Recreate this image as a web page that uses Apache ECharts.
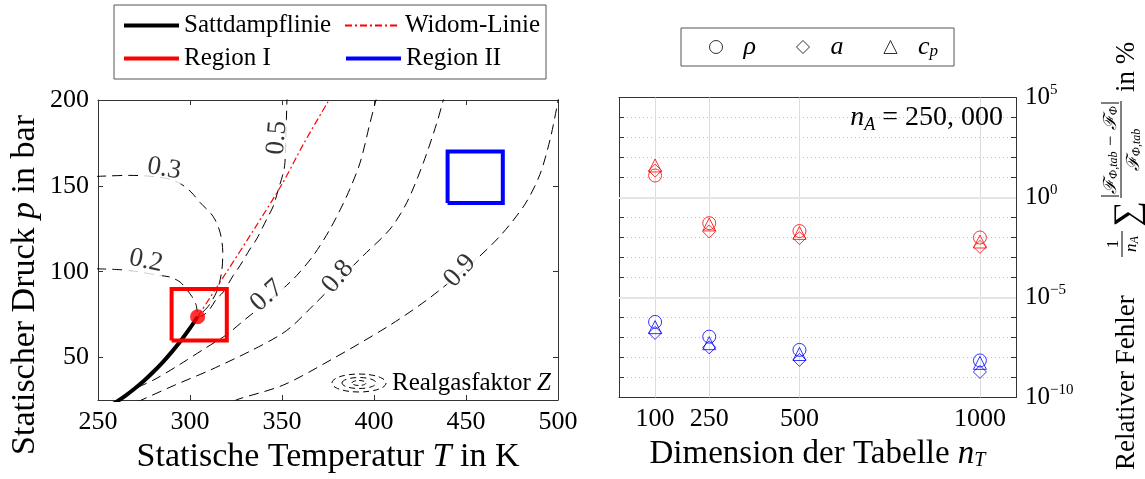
<!DOCTYPE html>
<html>
<head>
<meta charset="utf-8">
<script src="https://cdn.jsdelivr.net/npm/echarts@6/dist/echarts.min.js"></script>
<style>
  html, body { margin: 0; padding: 0; background: #ffffff; }
  #chart { width: 1145px; height: 479px; }
</style>
</head>
<body>
<div id="chart"></div>
<script>
// ---------- Left panel: CO2 state diagram (T in K, p in bar) ----------
const satLineT = [258, 260, 265, 270, 275, 280, 285, 290, 295, 300, 304.13];
const satLineP = [22.9, 24.2, 27.9, 32.0, 36.5, 41.6, 47.1, 53.2, 59.8, 67.1, 73.77];
const criticalPoint = [304.13, 73.77];
const widomT = [304.13, 320, 335, 350, 362, 375];
const widomP = [73.77, 100, 125, 151, 175, 199];
const regionIBounds = [290, 320, 60, 90];     // Tmin, Tmax, pmin, pmax
const regionIIBounds = [440, 470, 140, 170];

// Lines of constant compressibility factor Z, points [T, p]
const zLevels = ['0.2', '0.3', '0.5', '0.7', '0.8', '0.9'];
const zLine02 = [[249, 101.7], [260, 101.3], [268, 100.6], [276, 99.2], [283, 97.9], [289.1, 96.9], [294.6, 94.0], [297.8, 90.1], [301.1, 85.5], [303.3, 80.8], [303.9, 76.5]];
const zLine03 = [[249, 155.5], [267.4, 156.1], [278.3, 155.6], [289.1, 153.9], [295.5, 150.8], [300.5, 146.5], [305.4, 140.4], [312.5, 132.3], [316.3, 123.1], [317.8, 111.5], [317.2, 99.9], [314.5, 88.4], [309.8, 79.7], [306.0, 75.6], [304.4, 74.0]];
const zLine05 = [[353.0, 203], [352.7, 200], [352.3, 185], [351.6, 163.6], [350.7, 157.6], [348.0, 147.9], [345.3, 138.3], [341.7, 130.6], [336.2, 119.0], [332.6, 113.2], [327.2, 103.6], [323.5, 97.8], [318.1, 88.2], [314.5, 84.3], [310.9, 78.5], [307.2, 74.6], [304.6, 73.9]];
const zLine07 = [[401.5, 202], [401.1, 200.1], [397.8, 186.5], [392.4, 163.4], [385.2, 144.1], [376.1, 124.8], [367.0, 109.4], [358.0, 97.8], [350.5, 90.1], [340.8, 81.4], [329.9, 72.2], [320.1, 63.5], [308.2, 55.4], [294.6, 46.1], [281.0, 37.4], [270.1, 32.0]];
const zLine08 = [[271.5, 24.3], [272.8, 24.9], [291.8, 34.0], [310.9, 42.7], [332.6, 53.7], [348.9, 63.1], [356.1, 68.9], [367.0, 80.4], [380.4, 94.7], [394.2, 109.4], [408.7, 124.8], [417.8, 140.2], [426.8, 163.4], [434.1, 186.5], [437.7, 200], [438.3, 202]];
const zLine09 = [[324.0, 24.5], [325.4, 25.5], [350.7, 34.0], [376.1, 48.4], [408.7, 68.9], [430.4, 84.9], [452.2, 104.0], [468.5, 120.8], [482.1, 139.4], [490.2, 156.7], [495.7, 177.0], [499.5, 196.5], [500.3, 201.2]];
const zLines = [zLine02, zLine03, zLine05, zLine07, zLine08, zLine09];
const zLabelAt = [[276.1, 106.3], [285.9, 160.0], [347.3, 178.0], [341.8, 86.0], [380.4, 97.0], [446.7, 100.5]];
const zLabelAngle = [-12, -10, 85, 42, 50, 48];

const tempTicks = [250, 300, 350, 400, 450, 500];
const pressTicks = [50, 100, 150, 200];

// ---------- Right panel: mean relative table error ----------
const tableSizes = [100, 250, 500, 1000];
const dimTicks = [100, 250, 500, 1000];
const errRhoI = [1.26e1, 5.2e-2, 2.1e-2, 1.0e-2];
const errAI = [2.2e1, 2.0e-2, 9.3e-3, 3.4e-3];
const errCpI = [4.0e1, 4.5e-2, 1.7e-2, 6.3e-3];
const errRhoII = [6.0e-7, 1.1e-7, 2.4e-8, 7.1e-9];
const errAII = [1.7e-7, 3.2e-8, 7.6e-9, 1.9e-9];
const errCpII = [3.3e-7, 5.2e-8, 1.5e-8, 5.4e-9];
const decadeMin = -10, decadeMax = 5;
const majorDecades = [0, -5];

const FONT = '"Liberation Serif", "DejaVu Serif", serif';
const AXIS = '#333333';
const RED = '#ff0000', BLUE = '#0000ff';

function box(b) {
  return [[b[0], b[2]], [b[1], b[2]], [b[1], b[3]], [b[0], b[3]], [b[0], b[2]]];
}
function zip(a, b) { return a.map((v, i) => [v, b[i]]); }

const supRich = {
  b: { fontFamily: FONT, fontSize: 25, lineHeight: 30, color: '#000' },
  e: { fontFamily: FONT, fontSize: 15, lineHeight: 15, verticalAlign: 'top', color: '#000' }
};

const chart = echarts.init(document.getElementById('chart'), null, { renderer: 'canvas' });

const series = [];

// Z contours
zLines.forEach((pts) => {
  series.push({
    type: 'line', xAxisIndex: 0, yAxisIndex: 0, data: pts, symbol: 'none', smooth: 0.3,
    lineStyle: { color: '#000', width: 1, type: [10, 6] }, z: 2, silent: true
  });
});
// contour labels
series.push({
  type: 'scatter', xAxisIndex: 0, yAxisIndex: 0, symbolSize: 1, z: 5, silent: true,
  itemStyle: { color: 'rgba(0,0,0,0)' },
  data: zLabelAt.map((p, i) => ({
    value: p,
    label: {
      show: true, position: 'inside', formatter: zLevels[i], rotate: zLabelAngle[i],
      fontFamily: FONT, fontSize: 27, color: '#000', backgroundColor: '#fff', padding: [0, 2]
    }
  }))
});
series.push({
  name: 'Widom-Linie', type: 'line', xAxisIndex: 0, yAxisIndex: 0, data: zip(widomT, widomP),
  symbol: 'none', smooth: 0.3, z: 6, itemStyle: { color: RED },
  lineStyle: { color: RED, width: 1.2, type: [7, 3, 2, 3] }
});
series.push({
  name: 'Sattdampflinie', type: 'line', xAxisIndex: 0, yAxisIndex: 0, data: zip(satLineT, satLineP),
  symbol: 'none', smooth: 0.3, z: 7, itemStyle: { color: '#000' }, lineStyle: { color: '#000', width: 4 }
});
series.push({
  name: 'Region I', type: 'line', xAxisIndex: 0, yAxisIndex: 0, data: box(regionIBounds),
  symbol: 'none', z: 8, itemStyle: { color: RED }, lineStyle: { color: RED, width: 4, join: 'miter' }
});
series.push({
  name: 'Region II', type: 'line', xAxisIndex: 0, yAxisIndex: 0, data: box(regionIIBounds),
  symbol: 'none', z: 8, itemStyle: { color: BLUE }, lineStyle: { color: BLUE, width: 4, join: 'miter' }
});
series.push({
  type: 'scatter', xAxisIndex: 0, yAxisIndex: 0, data: [criticalPoint], symbol: 'circle',
  symbolSize: 15, z: 9, itemStyle: { color: RED }, silent: true
});

// error markers (plotted on log10 of the value)
function errSeries(name, vals, color, symbol) {
  return {
    name: name, type: 'scatter', xAxisIndex: 2, yAxisIndex: 2, symbol: symbol, symbolSize: 13, z: 5,
    data: tableSizes.map((n, i) => [n, Math.log10(vals[i])]),
    itemStyle: { color: 'rgba(0,0,0,0)', borderColor: color, borderWidth: 1 }
  };
}
series.push(errSeries('ρ', errRhoI, RED, 'circle'));
series.push(errSeries('a', errAI, RED, 'diamond'));
series.push(errSeries('cp', errCpI, RED, 'triangle'));
series.push(errSeries('ρ', errRhoII, BLUE, 'circle'));
series.push(errSeries('a', errAII, BLUE, 'diamond'));
series.push(errSeries('cp', errCpII, BLUE, 'triangle'));
// grid lines of the right panel
series.push({
  type: 'line', xAxisIndex: 2, yAxisIndex: 2, data: [], silent: true,
  markLine: {
    silent: true, symbol: ['none', 'none'], label: { show: false },
    lineStyle: { color: '#dcdcdc', width: 1, type: 'solid' },
    data: dimTicks.map(v => ({ xAxis: v })).concat(majorDecades.map(v => ({ yAxis: v, lineStyle: { color: '#e4e4e4', width: 2 } })))
  },
  z: 1
});

function tickAxis(extra) {
  return Object.assign({
    axisLine: { show: true, onZero: false, lineStyle: { color: AXIS, width: 1 } },
    axisTick: { show: true, inside: true, length: 5, lineStyle: { color: AXIS } },
    splitLine: { show: false },
    axisLabel: { show: false }
  }, extra);
}

const legendText = { fontFamily: FONT, fontSize: 25, color: '#000', lineHeight: 19 };

const option = {
  animation: false,
  backgroundColor: '#ffffff',
  grid: [
    { left: 98, top: 100, width: 460, height: 302 },
    { left: 619, top: 97.5, width: 397, height: 300 }
  ],
  xAxis: [
    tickAxis({
      type: 'value', gridIndex: 0, min: 250, max: 500, interval: 50, position: 'bottom',
      axisLabel: { show: true, fontFamily: FONT, fontSize: 26, color: '#000', margin: 9 },
      name: 'Statische Temperatur {i|T} in K', nameLocation: 'middle', nameGap: 40,
      nameTextStyle: { fontFamily: FONT, fontSize: 34, color: '#000',
        rich: { i: { fontFamily: FONT, fontSize: 34, fontStyle: 'italic', color: '#000' } } }
    }),
    tickAxis({ type: 'value', gridIndex: 0, min: 250, max: 500, interval: 50, position: 'top' }),
    tickAxis({
      type: 'value', gridIndex: 1, min: 0, max: 1100, position: 'bottom',
      axisTick: { show: true, inside: true, length: 5, lineStyle: { color: AXIS }, customValues: dimTicks },
      axisLabel: { show: true, fontFamily: FONT, fontSize: 26, color: '#000', margin: 9, customValues: dimTicks,
        formatter: v => String(v) },
      name: 'Dimension der Tabelle {i|n}{s|T}', nameLocation: 'middle', nameGap: 38,
      nameTextStyle: { fontFamily: FONT, fontSize: 33, color: '#000',
        rich: {
          i: { fontFamily: FONT, fontSize: 33, fontStyle: 'italic', color: '#000' },
          s: { fontFamily: FONT, fontSize: 20, fontStyle: 'italic', verticalAlign: 'bottom', color: '#000' }
        } }
    }),
    tickAxis({
      type: 'value', gridIndex: 1, min: 0, max: 1100, position: 'top',
      axisTick: { show: true, inside: true, length: 5, lineStyle: { color: AXIS }, customValues: dimTicks }
    })
  ],
  yAxis: [
    tickAxis({
      type: 'value', gridIndex: 0, min: 25.3, max: 200, position: 'left',
      axisTick: { show: true, inside: true, length: 5, lineStyle: { color: AXIS }, customValues: pressTicks },
      axisLabel: { show: true, fontFamily: FONT, fontSize: 26, color: '#000', margin: 9, customValues: pressTicks },
      name: 'Statischer Druck {i|p} in bar', nameLocation: 'middle', nameGap: 56,
      nameTextStyle: { fontFamily: FONT, fontSize: 34, color: '#000', padding: [0, 70, 0, 0],
        rich: { i: { fontFamily: FONT, fontSize: 34, fontStyle: 'italic', color: '#000' } } }
    }),
    tickAxis({
      type: 'value', gridIndex: 0, min: 25.3, max: 200, position: 'right',
      axisTick: { show: true, inside: true, length: 5, lineStyle: { color: AXIS }, customValues: pressTicks }
    }),
    tickAxis({
      type: 'value', gridIndex: 1, min: decadeMin, max: decadeMax, interval: 1, position: 'right',
      axisTick: { show: true, inside: true, length: 5, lineStyle: { color: AXIS } },
      splitLine: { show: true, lineStyle: { color: '#bdbdbd', type: [1, 3], width: 1 } },
      axisLabel: {
        show: true, margin: 9, fontFamily: FONT, fontSize: 25, color: '#000', rich: supRich,
        formatter: v => (v % 5 === 0 ? '{b|10}{e|' + (v < 0 ? '\u2212' + (-v) : v) + '}' : '')
      }
    }),
    tickAxis({
      type: 'value', gridIndex: 1, min: decadeMin, max: decadeMax, interval: 1, position: 'left',
      axisTick: { show: true, inside: true, length: 5, lineStyle: { color: AXIS } }
    })
  ],
  legend: [
    {
      data: [
        { name: 'Sattdampflinie', textStyle: Object.assign({ width: 152 }, legendText), lineStyle: { width: 4 } },
        { name: 'Widom-Linie', textStyle: Object.assign({ width: 136 }, legendText) },
        { name: 'Region I', textStyle: Object.assign({ width: 152 }, legendText), lineStyle: { width: 4 } },
        { name: 'Region II', textStyle: Object.assign({ width: 136 }, legendText), lineStyle: { width: 4 } }
      ],
      left: 114, top: 5, width: 420, orient: 'horizontal',
      padding: [8, 4, 8, 8], itemGap: 8, itemWidth: 55, itemHeight: 12,
      borderColor: '#555', borderWidth: 1, backgroundColor: '#fff',
      selectedMode: false,
      itemStyle: { opacity: 0 },
      textStyle: legendText
    },
    {
      data: ['ρ', 'a', 'cp'],
      left: 681, top: 28, orient: 'horizontal',
      padding: [6, 16, 6, 28], itemGap: 40, itemWidth: 13, itemHeight: 13,
      borderColor: '#555', borderWidth: 1, backgroundColor: '#fff',
      selectedMode: false,
      itemStyle: { color: 'rgba(0,0,0,0)', borderColor: '#000', borderWidth: 1 },
      formatter: n => (n === 'cp' ? '{i|c}{s|p}' : '{i|' + n + '}'),
      textStyle: {
        fontFamily: FONT, fontSize: 26, color: '#000', padding: [0, 0, 0, 16],
        rich: {
          i: { fontFamily: FONT, fontSize: 26, fontStyle: 'italic', color: '#000' },
          s: { fontFamily: FONT, fontSize: 17, fontStyle: 'italic', verticalAlign: 'bottom', color: '#000' }
        }
      }
    }
  ],
  graphic: [
    // key for the contour lines
    { type: 'ellipse', shape: { cx: 359, cy: 383, rx: 27, ry: 9 }, style: { fill: 'none', stroke: '#000', lineWidth: 1, lineDash: [6, 4] }, z: 10 },
    { type: 'ellipse', shape: { cx: 359, cy: 383, rx: 17, ry: 5.5 }, style: { fill: 'none', stroke: '#000', lineWidth: 1, lineDash: [6, 4] }, z: 10 },
    { type: 'ellipse', shape: { cx: 359, cy: 383, rx: 7, ry: 2.5 }, style: { fill: 'none', stroke: '#000', lineWidth: 1, lineDash: [5, 3] }, z: 10 },
    {
      type: 'text', left: 392, top: 371, z: 10,
      style: {
        text: 'Realgasfaktor {i|Z}', font: '25px ' + FONT, fill: '#000',
        rich: { i: { fontFamily: FONT, fontSize: 25, fontStyle: 'italic', fill: '#000' } }
      }
    },
    {
      type: 'text', right: 142, top: 104, z: 10,
      style: {
        text: '{i|n}{s|A}{t| = 250, 000}', fill: '#000',
        rich: {
          i: { fontFamily: FONT, fontSize: 28, fontStyle: 'italic', lineHeight: 32 },
          s: { fontFamily: FONT, fontSize: 18, fontStyle: 'italic', verticalAlign: 'bottom', lineHeight: 18 },
          t: { fontFamily: FONT, fontSize: 28, lineHeight: 32 }
        }
      }
    },
    // right axis title: relative error formula, read bottom to top
    {
      type: 'group', x: 1127, y: 470, rotation: Math.PI / 2, z: 10,
      children: [
        { type: 'text', x: 0, y: 0, style: { text: 'Relativer Fehler', font: '27px ' + FONT, fill: '#000', verticalAlign: 'middle', align: 'left' } },
        { type: 'text', x: 226, y: -13, style: { text: '1', font: '17px ' + FONT, fill: '#000', verticalAlign: 'middle', align: 'center' } },
        { type: 'line', shape: { x1: 213, y1: -5, x2: 239, y2: -5 }, style: { stroke: '#000', lineWidth: 1 } },
        { type: 'text', x: 226, y: 5, style: { text: '{i|n}{s|A}', fill: '#000', verticalAlign: 'middle', align: 'center',
          rich: { i: { fontFamily: FONT, fontSize: 17, fontStyle: 'italic' }, s: { fontFamily: FONT, fontSize: 12, fontStyle: 'italic', verticalAlign: 'bottom' } } } },
        { type: 'text', x: 256, y: 2, style: { text: '\u2211', font: '36px ' + FONT, fill: '#000', verticalAlign: 'middle', align: 'center' } },
        { type: 'text', x: 320, y: -16, style: { text: '{i|\u2131}{s|\u03A6,tab}{i| \u2212 \u2131}{s|\u03A6}', fill: '#000', verticalAlign: 'middle', align: 'center',
          rich: { i: { fontFamily: FONT, fontSize: 18, fontStyle: 'italic' }, s: { fontFamily: FONT, fontSize: 12, fontStyle: 'italic', verticalAlign: 'bottom' } } } },
        { type: 'line', shape: { x1: 272, y1: -6, x2: 369, y2: -6 }, style: { stroke: '#000', lineWidth: 1 } },
        { type: 'line', shape: { x1: 274, y1: -26, x2: 274, y2: -8 }, style: { stroke: '#000', lineWidth: 1 } },
        { type: 'line', shape: { x1: 367, y1: -26, x2: 367, y2: -8 }, style: { stroke: '#000', lineWidth: 1 } },
        { type: 'text', x: 320, y: 7, style: { text: '{i|\u2131}{s|\u03A6,tab}', fill: '#000', verticalAlign: 'middle', align: 'center',
          rich: { i: { fontFamily: FONT, fontSize: 18, fontStyle: 'italic' }, s: { fontFamily: FONT, fontSize: 12, fontStyle: 'italic', verticalAlign: 'bottom' } } } },
        { type: 'text', x: 378, y: 0, style: { text: 'in %', font: '27px ' + FONT, fill: '#000', verticalAlign: 'middle', align: 'left' } }
      ]
    }
  ],
  series: series
};

chart.setOption(option);
</script>
</body>
</html>
